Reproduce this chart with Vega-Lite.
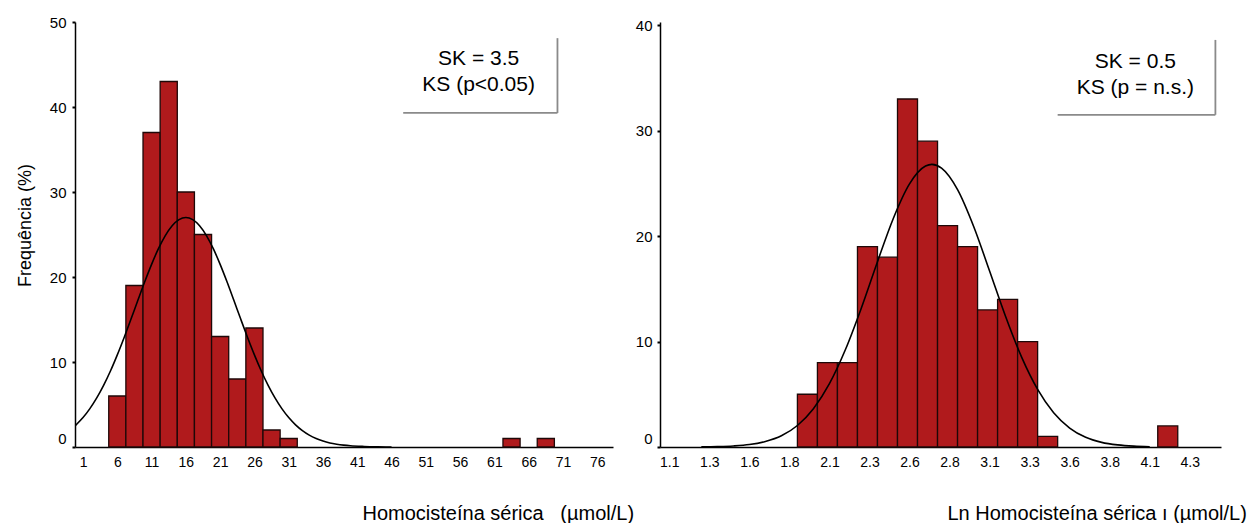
{
  "$schema": "https://vega.github.io/schema/vega-lite/v6.json",
  "background": "white",
  "padding": {"left": 16, "top": 15, "right": 0, "bottom": 0},
  "spacing": 1,
  "config": {
    "view": {"stroke": null},
    "font": "Liberation Sans",
    "axis": {"labelFont": "Liberation Sans", "titleFont": "Liberation Sans", "labelColor": "black", "titleColor": "black", "grid": false, "domainColor": "black", "tickColor": "black", "titleFontWeight": "normal"},
    "text": {"font": "Liberation Sans"}
  },
  "datasets": {
    "hist1": [
      {"bin_start": 4.75, "bin_end": 7.25, "frequency": 6},
      {"bin_start": 7.25, "bin_end": 9.75, "frequency": 19},
      {"bin_start": 9.75, "bin_end": 12.25, "frequency": 37},
      {"bin_start": 12.25, "bin_end": 14.75, "frequency": 43},
      {"bin_start": 14.75, "bin_end": 17.25, "frequency": 30},
      {"bin_start": 17.25, "bin_end": 19.75, "frequency": 25},
      {"bin_start": 19.75, "bin_end": 22.25, "frequency": 13},
      {"bin_start": 22.25, "bin_end": 24.75, "frequency": 8},
      {"bin_start": 24.75, "bin_end": 27.25, "frequency": 14},
      {"bin_start": 27.25, "bin_end": 29.75, "frequency": 2},
      {"bin_start": 29.75, "bin_end": 32.25, "frequency": 1},
      {"bin_start": 62.25, "bin_end": 64.75, "frequency": 1},
      {"bin_start": 67.25, "bin_end": 69.75, "frequency": 1}
    ],
    "curve1": [
      {"bin_start": -0.1, "frequency": 2.53}, {"bin_start": 1, "frequency": 3.46}, {"bin_start": 2, "frequency": 4.51}, {"bin_start": 3, "frequency": 5.77},
      {"bin_start": 4, "frequency": 7.25}, {"bin_start": 5, "frequency": 8.94}, {"bin_start": 6, "frequency": 10.84}, {"bin_start": 7, "frequency": 12.89},
      {"bin_start": 8, "frequency": 15.05}, {"bin_start": 9, "frequency": 17.26}, {"bin_start": 10, "frequency": 19.44}, {"bin_start": 11, "frequency": 21.49},
      {"bin_start": 12, "frequency": 23.33}, {"bin_start": 13, "frequency": 24.87}, {"bin_start": 14, "frequency": 26.03}, {"bin_start": 15, "frequency": 26.75},
      {"bin_start": 16, "frequency": 27.0}, {"bin_start": 17, "frequency": 26.75}, {"bin_start": 18, "frequency": 26.03}, {"bin_start": 19, "frequency": 24.87},
      {"bin_start": 20, "frequency": 23.33}, {"bin_start": 21, "frequency": 21.49}, {"bin_start": 22, "frequency": 19.44}, {"bin_start": 23, "frequency": 17.26},
      {"bin_start": 24, "frequency": 15.05}, {"bin_start": 25, "frequency": 12.89}, {"bin_start": 26, "frequency": 10.84}, {"bin_start": 27, "frequency": 8.94},
      {"bin_start": 28, "frequency": 7.25}, {"bin_start": 29, "frequency": 5.77}, {"bin_start": 30, "frequency": 4.51}, {"bin_start": 31, "frequency": 3.46},
      {"bin_start": 32, "frequency": 2.61}, {"bin_start": 33, "frequency": 1.93}, {"bin_start": 34, "frequency": 1.4}, {"bin_start": 35, "frequency": 1.0},
      {"bin_start": 36, "frequency": 0.7}, {"bin_start": 37, "frequency": 0.48}, {"bin_start": 38, "frequency": 0.33}, {"bin_start": 39, "frequency": 0.22},
      {"bin_start": 40, "frequency": 0.14}, {"bin_start": 42, "frequency": 0.06}, {"bin_start": 44, "frequency": 0.02}, {"bin_start": 46, "frequency": 0.0}
    ],
    "note1": [
      {"bin_start": 58.7, "frequency": 45.6, "label": "SK = 3.5"},
      {"bin_start": 58.7, "frequency": 42.6, "label": "KS (p<0.05)"}
    ],
    "box1": [
      {"bin_start": 70.2, "bin_end": 70.2, "frequency": 48.1, "frequency_end": 39.3},
      {"bin_start": 47.7, "bin_end": 70.2, "frequency": 39.3, "frequency_end": 39.3}
    ],
    "hist2": [
      {"bin_start": 1.9, "bin_end": 2.025, "frequency": 5},
      {"bin_start": 2.025, "bin_end": 2.15, "frequency": 8},
      {"bin_start": 2.15, "bin_end": 2.275, "frequency": 8},
      {"bin_start": 2.275, "bin_end": 2.4, "frequency": 19},
      {"bin_start": 2.4, "bin_end": 2.525, "frequency": 18},
      {"bin_start": 2.525, "bin_end": 2.65, "frequency": 33},
      {"bin_start": 2.65, "bin_end": 2.775, "frequency": 29},
      {"bin_start": 2.775, "bin_end": 2.9, "frequency": 21},
      {"bin_start": 2.9, "bin_end": 3.025, "frequency": 19},
      {"bin_start": 3.025, "bin_end": 3.15, "frequency": 13},
      {"bin_start": 3.15, "bin_end": 3.275, "frequency": 14},
      {"bin_start": 3.275, "bin_end": 3.4, "frequency": 10},
      {"bin_start": 3.4, "bin_end": 3.525, "frequency": 1},
      {"bin_start": 4.15, "bin_end": 4.275, "frequency": 2}
    ],
    "curve2": [
      {"bin_start": 1.3, "frequency": 0.01}, {"bin_start": 1.4, "frequency": 0.04}, {"bin_start": 1.5, "frequency": 0.1}, {"bin_start": 1.6, "frequency": 0.23},
      {"bin_start": 1.7, "frequency": 0.52}, {"bin_start": 1.8, "frequency": 1.06}, {"bin_start": 1.9, "frequency": 2.04}, {"bin_start": 2.0, "frequency": 3.63},
      {"bin_start": 2.1, "frequency": 6.0}, {"bin_start": 2.2, "frequency": 9.24}, {"bin_start": 2.3, "frequency": 13.21}, {"bin_start": 2.4, "frequency": 17.57},
      {"bin_start": 2.5, "frequency": 21.72}, {"bin_start": 2.6, "frequency": 24.95}, {"bin_start": 2.7, "frequency": 26.64}, {"bin_start": 2.74, "frequency": 26.8},
      {"bin_start": 2.8, "frequency": 26.45}, {"bin_start": 2.9, "frequency": 24.41}, {"bin_start": 3.0, "frequency": 20.94}, {"bin_start": 3.1, "frequency": 16.69},
      {"bin_start": 3.2, "frequency": 12.37}, {"bin_start": 3.3, "frequency": 8.52}, {"bin_start": 3.4, "frequency": 5.46}, {"bin_start": 3.5, "frequency": 3.25},
      {"bin_start": 3.6, "frequency": 1.8}, {"bin_start": 3.7, "frequency": 0.92}, {"bin_start": 3.8, "frequency": 0.44}, {"bin_start": 3.9, "frequency": 0.2},
      {"bin_start": 4.0, "frequency": 0.08}, {"bin_start": 4.1, "frequency": 0.03}
    ],
    "note2": [
      {"bin_start": 4.01, "frequency": 36.5, "label": "SK = 0.5"},
      {"bin_start": 4.01, "frequency": 34.0, "label": "KS (p = n.s.)"}
    ],
    "box2": [
      {"bin_start": 4.51, "bin_end": 4.51, "frequency": 38.6, "frequency_end": 31.5},
      {"bin_start": 3.525, "bin_end": 4.51, "frequency": 31.5, "frequency_end": 31.5}
    ]
  },
  "hconcat": [
    {
      "width": 538,
      "height": 425,
      "encoding": {
        "x": {"field": "bin_start", "type": "quantitative", "scale": {"domain": [-0.17, 78.3], "nice": false, "zero": false},
          "axis": {"values": [1, 6, 11, 16, 21, 26, 31, 36, 41, 46, 51, 56, 61, 66, 71, 76], "labelFontSize": 14, "ticks": false, "labelPadding": 8, "domainWidth": 1.5, "labelFlush": false, "labelOverlap": false,
            "title": "Homocisteína sérica\u00a0\u00a0\u00a0(µmol/L)", "titleFontSize": 20, "titleX": 287, "titleY": 72, "titleAlign": "left", "titleBaseline": "alphabetic"}},
        "y": {"field": "frequency", "type": "quantitative", "scale": {"domain": [0, 50], "nice": false},
          "axis": {"values": [0, 10, 20, 30, 40, 50], "labelFontSize": 15, "tickSize": 3, "tickWidth": 2, "labelPadding": 6, "domainWidth": 1.5,
            "labelOffset": {"condition": {"test": "datum.value === 0", "value": -9}, "value": 0},
            "title": "Frequência (%)", "titleFontSize": 18, "titleX": -45, "titleY": 203, "titleAlign": "center", "titleBaseline": "alphabetic", "titleAngle": -90}}
      },
      "layer": [
        {
          "data": {"name": "hist1"},
          "mark": {"type": "rect", "fill": "#b01a1c", "stroke": "#1e0808", "strokeWidth": 1.3},
          "encoding": {
            "x2": {"field": "bin_end"},
            "y2": {"datum": 0}
          }
        },
        {
          "data": {"name": "curve1"},
          "mark": {"type": "line", "color": "black", "strokeWidth": 1.6, "interpolate": "monotone"}
        },
        {
          "data": {"name": "note1"},
          "mark": {"type": "text", "fontSize": 21, "align": "center", "baseline": "middle", "color": "black"},
          "encoding": {"text": {"field": "label"}}
        },
        {
          "data": {"name": "box1"},
          "mark": {"type": "rule", "color": "#8a8a8a", "strokeWidth": 1.8},
          "encoding": {
            "x2": {"field": "bin_end"},
            "y2": {"field": "frequency_end"}
          }
        }
      ]
    },
    {
      "width": 561,
      "height": 425,
      "encoding": {
        "x": {"field": "bin_start", "type": "quantitative", "scale": {"domain": [1.042, 4.545], "nice": false, "zero": false},
          "axis": {"values": [1.1, 1.35, 1.6, 1.85, 2.1, 2.35, 2.6, 2.85, 3.1, 3.35, 3.6, 3.85, 4.1, 4.35],
            "labelExpr": "format(floor(datum.value * 10 + 0.001) / 10, '.1f')",
            "labelFontSize": 14, "ticks": false, "labelPadding": 8, "domainWidth": 1.5, "labelFlush": false, "labelOverlap": false,
            "title": "Ln Homocisteína sérica ı\u00a0(µmol/L)", "titleFontSize": 20, "titleX": 287, "titleY": 72, "titleAlign": "left", "titleBaseline": "alphabetic"}},
        "y": {"field": "frequency", "type": "quantitative", "scale": {"domain": [0, 40.3], "nice": false},
          "axis": {"values": [0, 10, 20, 30, 40], "labelFontSize": 15, "tickSize": 3, "tickWidth": 2, "labelPadding": 5, "domainWidth": 1.5,
            "labelOffset": {"condition": {"test": "datum.value === 0", "value": -9}, "value": 0},
            "title": null}}
      },
      "layer": [
        {
          "data": {"name": "hist2"},
          "mark": {"type": "rect", "fill": "#b01a1c", "stroke": "#1e0808", "strokeWidth": 1.3},
          "encoding": {
            "x2": {"field": "bin_end"},
            "y2": {"datum": 0}
          }
        },
        {
          "data": {"name": "curve2"},
          "mark": {"type": "line", "color": "black", "strokeWidth": 1.6, "interpolate": "monotone"}
        },
        {
          "data": {"name": "note2"},
          "mark": {"type": "text", "fontSize": 21, "align": "center", "baseline": "middle", "color": "black"},
          "encoding": {"text": {"field": "label"}}
        },
        {
          "data": {"name": "box2"},
          "mark": {"type": "rule", "color": "#8a8a8a", "strokeWidth": 1.8},
          "encoding": {
            "x2": {"field": "bin_end"},
            "y2": {"field": "frequency_end"}
          }
        }
      ]
    }
  ]
}
